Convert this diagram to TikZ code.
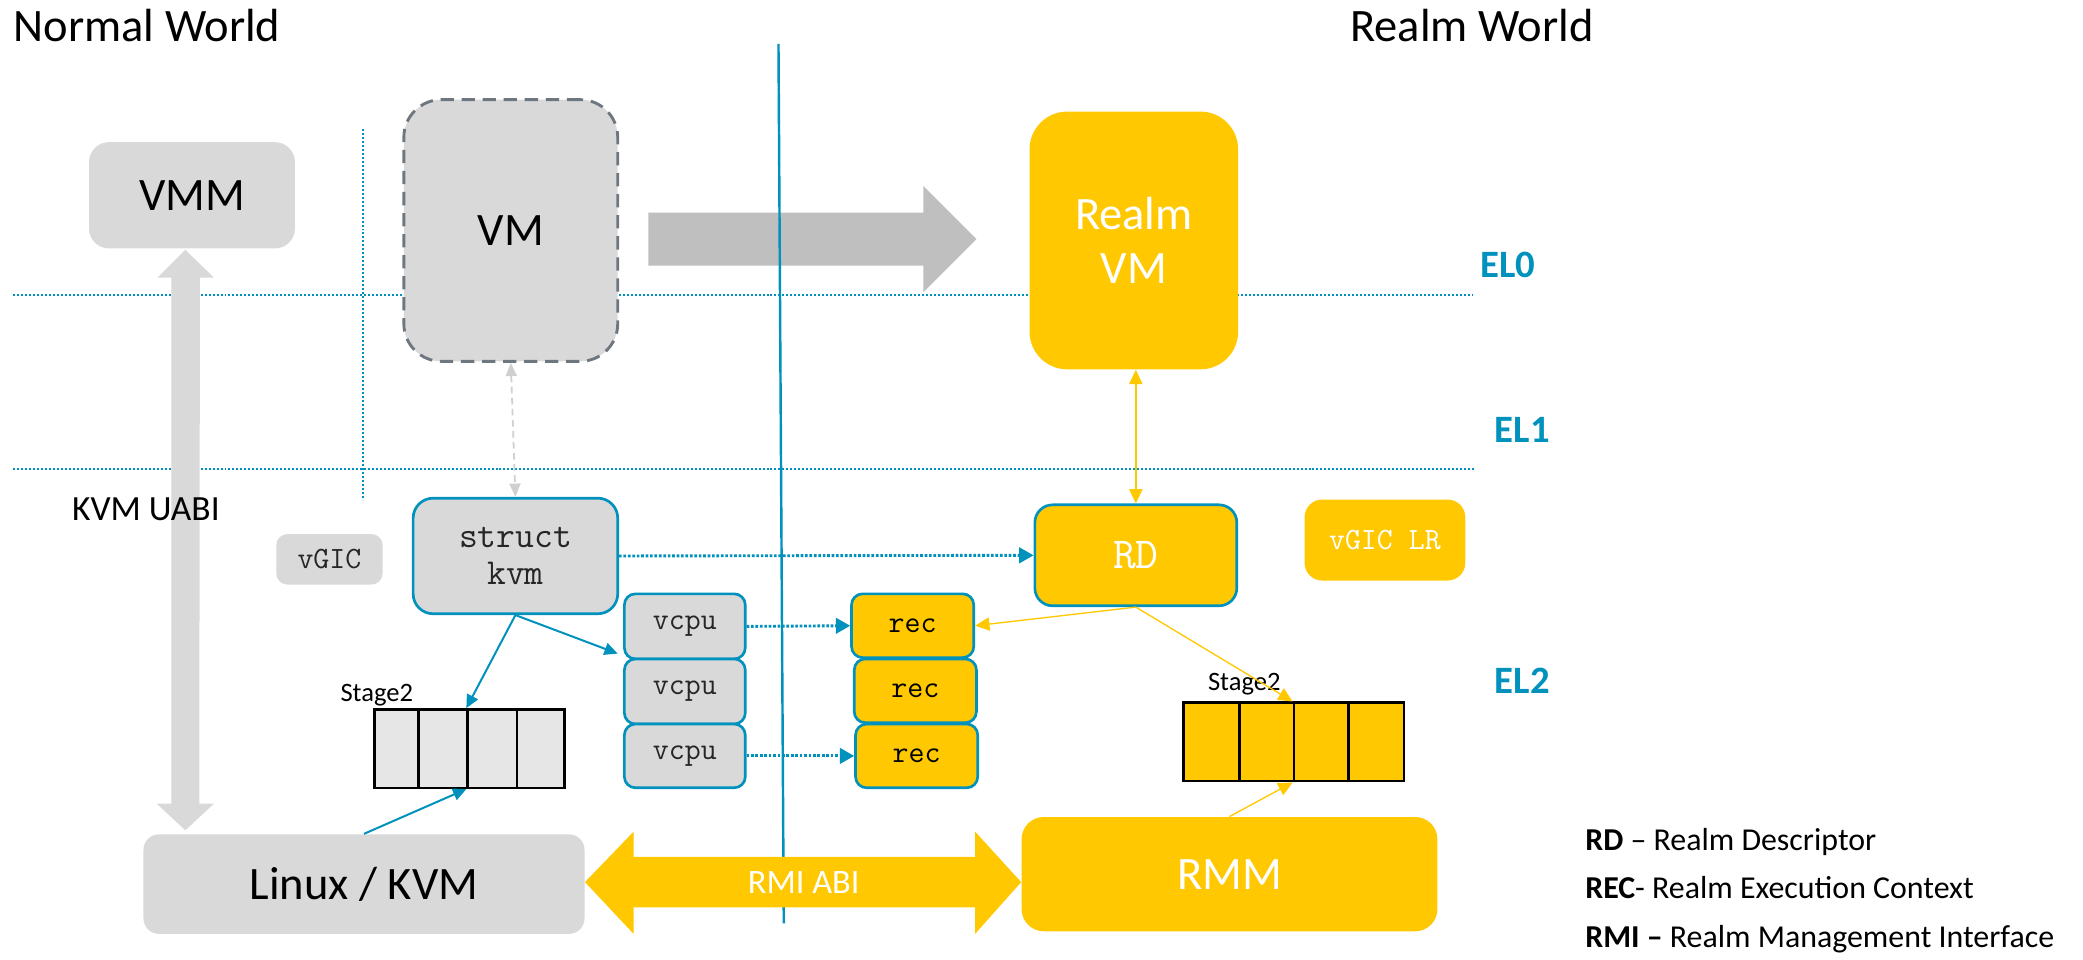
\documentclass[tikz,border=0pt]{standalone}
\usepackage{fontspec}
\setmainfont{Carlito}
\usetikzlibrary{arrows.meta,calc}
\definecolor{armblue}{HTML}{0091BD}
\definecolor{gold}{HTML}{FFC800}
\definecolor{boxgray}{HTML}{D9D9D9}
\definecolor{cellgray}{HTML}{E6E6E6}
\definecolor{arrowgray}{HTML}{BFBFBF}
\definecolor{dashgray}{HTML}{6E7680}
\definecolor{lightdash}{HTML}{D0D0D0}
\newcommand{\bx}[7]{%
  \pgfmathsetmacro{\bxcx}{(#2+#4)/2}%
  \pgfmathsetmacro{\bxcy}{(#3+#5)/2}%
  \pgfmathsetmacro{\bxw}{(#4-#2)*0.6}%
  \pgfmathsetmacro{\bxh}{(#5-#3)*0.6}%
  \node[inner sep=0pt, minimum width=\bxw pt, minimum height=\bxh pt, align=center, #6] (#1) at (\bxcx,\bxcy) {#7};%
}
\begin{document}
\begin{tikzpicture}[x=0.6pt,y=-0.6pt,
  worldlbl/.style={anchor=base west, inner sep=0pt, font=\fontsize{21}{25}\selectfont},
  ellbl/.style={anchor=base west, inner sep=0pt, text=armblue, font=\bfseries\fontsize{17.5}{20}\selectfont},
  graybox/.style={fill=boxgray, draw=none},
  goldbox/.style={fill=gold, draw=none},
  bluerim/.style={draw=armblue, line width=1.2pt},
  bigtext/.style={font=\fontsize{21}{24.6}\selectfont},
  monosmall/.style={font=\ttfamily\fontsize{14}{16}\selectfont},
  cell/.style={draw=black, line width=1.15pt},
  eldots/.style={draw=armblue, line width=0.9pt, dash pattern=on 0.9pt off 0.9pt},
  dotarrow/.style={draw=armblue, line width=1.3pt, dash pattern=on 1.2pt off 0.8pt, -{Triangle[length=6.5pt,width=7pt]}},
  bluearrow/.style={draw=armblue, line width=0.9pt, -{Triangle[length=6pt,width=5.5pt]}},
  goldarrow/.style={draw=gold, line width=0.6pt, -{Triangle[length=6.5pt,width=6pt]}},
]
\useasboundingbox (0,0) rectangle (1568,722);

% level separators
\coordinate (elA1) at (10,222);
\coordinate (elA2) at (1108,222);
\coordinate (elB1) at (10,353);
\coordinate (elB2) at (1110,353);
\draw[eldots] (elA1) -- (elA2);
\draw[eldots] (elB1) -- (elB2);
\coordinate (vdT) at (273,97);
\coordinate (vdB) at (273,376);
\draw[eldots] (vdT) -- (vdB);

% big gray arrow VM -> Realm VM
\fill[arrowgray] (488,160) -- (695,160) -- (695,140) -- (735,180) -- (695,220) -- (695,200) -- (488,200) -- cycle;

% world divider
\coordinate (wdT) at (586,33);
\coordinate (wdB) at (590,695);
\draw[armblue, line width=1.1pt] (wdT) -- (wdB);

% titles
\node[worldlbl] (nw) at (10,31.5) {Normal World};
\node[worldlbl] (rw) at (1016,31.5) {Realm World};
\node[ellbl] (elz) at (1114,209) {EL0};
\node[ellbl] (elo) at (1125,333) {EL1};
\node[ellbl] (elt) at (1125,522) {EL2};

% boxes
\bx{vmm}{67}{107}{222}{187}{graybox, rounded corners=9pt, bigtext}{VMM}
\bx{vm}{304}{75}{465}{272}{fill=boxgray, draw=dashgray, line width=1.3pt, dash pattern=on 6pt off 3.5pt, rounded corners=17pt, bigtext}{VM}
\bx{realmvm}{775}{84}{932}{278}{goldbox, rounded corners=17pt, bigtext, text=white}{Realm\\VM}
\bx{vgic}{208}{402}{288}{440}{graybox, rounded corners=5pt, monosmall, text=black!85}{vGIC}
\bx{kvm}{311}{375}{465}{462}{fill=boxgray, bluerim, rounded corners=9pt, font=\ttfamily\fontsize{16.5}{17}\selectfont, text=black!85}{struct\\kvm}
\bx{vcpuA}{470}{447}{561}{496}{fill=boxgray, bluerim, rounded corners=5pt, monosmall, text=black!85}{vcpu}
\bx{vcpuB}{470}{496}{561}{545}{fill=boxgray, bluerim, rounded corners=5pt, monosmall, text=black!85}{vcpu}
\bx{vcpuC}{470}{545}{561}{593}{fill=boxgray, bluerim, rounded corners=5pt, monosmall, text=black!85}{vcpu}
\bx{recA}{641}{447}{733}{495}{goldbox, bluerim, rounded corners=5pt, monosmall}{rec}
\bx{recB}{643}{496}{735}{544}{goldbox, bluerim, rounded corners=5pt, monosmall}{rec}
\bx{recC}{644}{545}{736}{593}{goldbox, bluerim, rounded corners=5pt, monosmall}{rec}
\bx{rd}{779}{380}{931}{456}{goldbox, bluerim, rounded corners=8pt, font=\ttfamily\fontsize{20}{22}\selectfont, text=white}{RD}
\bx{vgiclr}{982}{376}{1103}{437}{goldbox, rounded corners=8pt, monosmall, text=white}{vGIC LR}
\bx{linux}{108}{628}{440}{703}{graybox, rounded corners=7pt, bigtext}{Linux / KVM}
\bx{rmm}{769}{615}{1082}{701}{goldbox, rounded corners=10pt, bigtext, text=white}{RMM}

% stage2 tables
\bx{stLa}{282}{534}{315}{593}{fill=cellgray, cell}{}
\bx{stLb}{315}{534}{352}{593}{fill=cellgray, cell}{}
\bx{stLc}{352}{534}{389}{593}{fill=cellgray, cell}{}
\bx{stLd}{389}{534}{425}{593}{fill=cellgray, cell}{}
\bx{stRa}{891}{529}{933}{588}{fill=gold, cell}{}
\bx{stRb}{933}{529}{974}{588}{fill=gold, cell}{}
\bx{stRc}{974}{529}{1015}{588}{fill=gold, cell}{}
\bx{stRd}{1015}{529}{1057}{588}{fill=gold, cell}{}
\node[anchor=base west, inner sep=0pt, font=\fontsize{12}{14}\selectfont] (stLlbl) at (256,528) {Stage2};
\node[anchor=base west, inner sep=0pt, font=\fontsize{12}{14}\selectfont] (stRlbl) at (909,519.5) {Stage2};

% KVM UABI double arrow
\coordinate (uT) at (139.5,188);
\coordinate (uB) at (139.5,625);
\fill[boxgray] (uT) -- ++(21.5,21) -- ++(-10.5,0) -- (150,605) -- ++(11,0) -- (uB) -- ++(-21.5,-20) -- ++(11,0) -- (129,209) -- ++(-10.5,0) -- cycle;
\node[anchor=west, inner sep=0pt, font=\fontsize{16}{19}\selectfont] (uabi) at (54,383) {KVM UABI};

% RMI ABI double arrow
\fill[gold] (linux.east |- 0,664) -- (477,626) -- (477,645) -- (734,645) -- (734,626) -- (rmm.west |- 0,664) -- (734,703) -- (734,683) -- (477,683) -- (477,703) -- cycle;
\node[inner sep=0pt, text=white, font=\fontsize{15.5}{18}\selectfont] (rmiabi) at (605,664) {RMI ABI};

% connectors
\draw[lightdash, line width=0.8pt, dash pattern=on 3pt off 2pt, {Triangle[length=6pt,width=5pt]}-{Triangle[length=6pt,width=5pt]}] (vm.south) -- (kvm.north);
\draw[goldarrow, {Triangle[length=6.5pt,width=6pt]}-{Triangle[length=6.5pt,width=6pt]}] (rd.north |- realmvm.south) -- (rd.north);
\draw[goldarrow] (rd.south) -- (recA.east);
\draw[goldarrow] (rd.south) -- (stRc.north west);
\draw[goldarrow] (rmm.north) -- (stRc.south west);
\draw[bluearrow] (kvm.south) -- (stLc.north west);
\draw[bluearrow] (kvm.south) -- ($(vcpuA.south west)+(-4,-5)$);
\draw[bluearrow] (linux.north) -- (stLc.south west);
\draw[dotarrow] (kvm.east) -- (rd.west);
\draw[dotarrow] (vcpuA.east) -- (recA.west);
\draw[dotarrow] (vcpuC.east) -- (recC.west);

% legend
\node[anchor=base west, inner sep=0pt, font=\fontsize{14.4}{17}\selectfont] (legRD) at (1193,640) {\textbf{RD} – Realm Descriptor};
\node[anchor=base west, inner sep=0pt, font=\fontsize{14.4}{17}\selectfont] (legREC) at (1193,676) {\textbf{REC}- Realm Execution Context};
\node[anchor=base west, inner sep=0pt, font=\fontsize{14.4}{17}\selectfont] (legRMI) at (1193,713) {\textbf{RMI –} Realm Management Interface};
\end{tikzpicture}
\end{document}
